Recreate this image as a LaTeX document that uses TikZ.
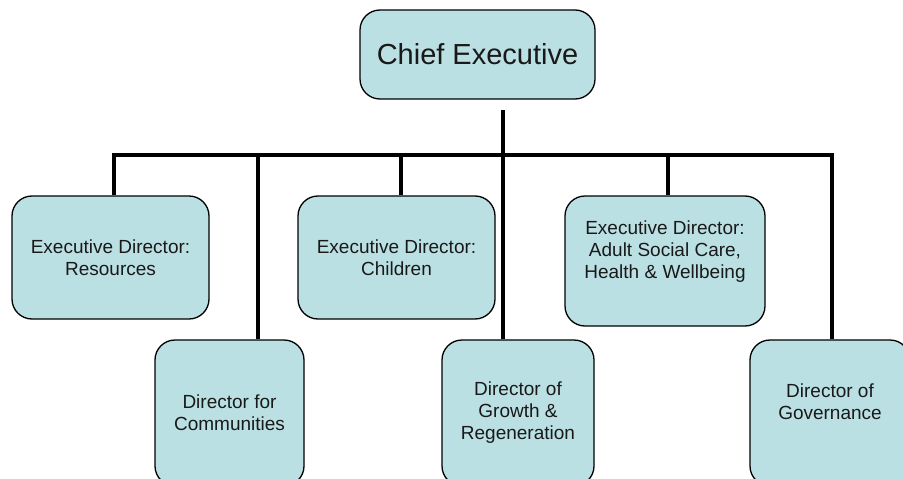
\documentclass[tikz,border=0pt]{standalone}
\usepackage{fontspec}
\setmainfont{Liberation Sans}
\tikzset{
  post/.style={rectangle, rounded corners=20pt, draw=black, line width=1.3pt, fill=boxblue, inner sep=0pt, align=center, text=black!90, font=\fontsize{19pt}{22pt}\selectfont},
  link/.style={draw=black, line width=4pt, line join=miter}
}
\definecolor{boxblue}{HTML}{BBE0E3}
\begin{document}
\begin{tikzpicture}[x=1pt, y=-1pt]
\useasboundingbox (0,0) rectangle (903,479);
% posts
\node[post, minimum width=235pt, minimum height=89pt, font=\fontsize{29pt}{34pt}\selectfont] at (477.5,54.5) (CE) {Chief Executive};
\node[post, minimum width=197pt, minimum height=123pt] at (110.5,257.5) (ER) {Executive Director:\\Resources};
\node[post, minimum width=197pt, minimum height=123pt] at (396.5,257.5) (EC) {Executive Director:\\Children};
\node[post, minimum width=200pt, minimum height=130pt] at (665,261) (EA) {Executive Director:\\Adult Social Care,\\Health \& Wellbeing\\\mbox{}};
\node[post, minimum width=149pt, minimum height=146pt] at (229.5,413) (DC) {Director for\\Communities};
\node[post, minimum width=152pt, minimum height=146pt] at (518,413) (DG) {Director of\\Growth \&\\Regeneration};
\node[post, minimum width=160pt, minimum height=146pt] at (830,413) (DV) {Director of\\Governance\\\mbox{}};
% bar
\coordinate (top) at (503,110);
\coordinate (BL) at (114,155);
\coordinate (BR) at (832,155);
\coordinate (J2) at (258,155);
\coordinate (J3) at (401,155);
\coordinate (J5) at (668,155);
\draw[link] (BL |- ER.north) -- (BL) -- (BR) -- (BR |- DV.north);
\draw[link] (top) -- (top |- DG.north);
\draw[link] (J2) -- (J2 |- DC.north);
\draw[link] (J3) -- (J3 |- EC.north);
\draw[link] (J5) -- (J5 |- EA.north);
\end{tikzpicture}
\end{document}
